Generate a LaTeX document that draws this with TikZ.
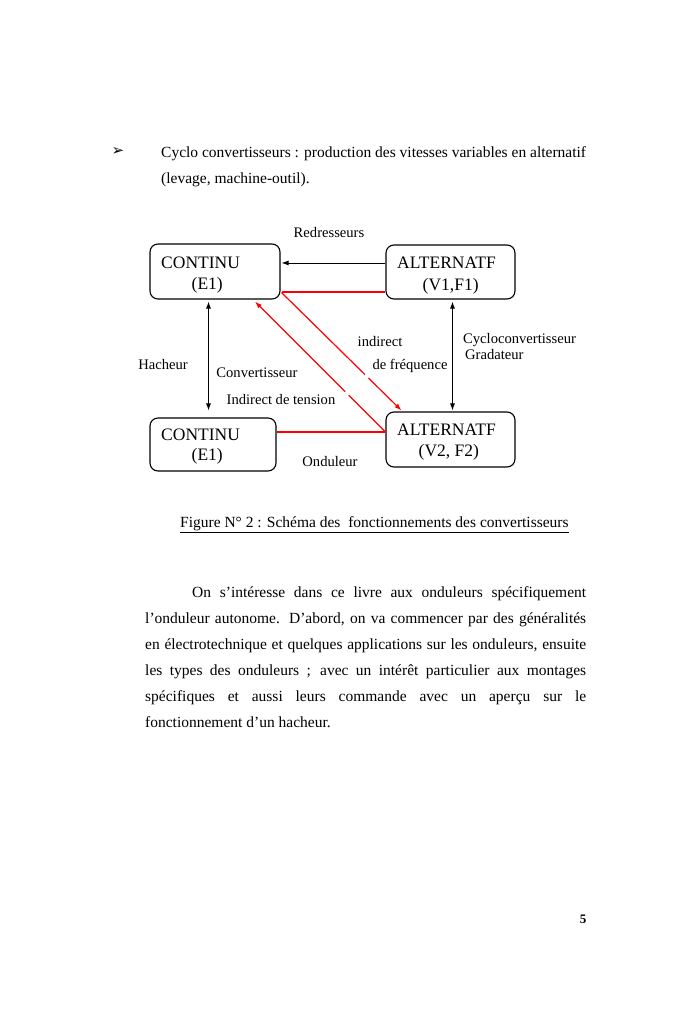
\documentclass[tikz,border=0pt]{standalone}
\usepackage{fontspec}
\setmainfont{Liberation Serif}
\newfontfamily\dejavu{DejaVu Sans}
\usetikzlibrary{arrows.meta,calc}
\definecolor{lred}{RGB}{255,0,0}
\tikzset{
  box/.style={draw=black, line width=1.1pt, rounded corners=8pt, inner sep=0pt},
  boxtxt/.style={font=\fontsize{17.5}{21}\selectfont, inner sep=0pt, anchor=base west},
  lbl/.style={font=\fontsize{14.6}{16}\selectfont, inner sep=0pt},
  body/.style={font=\fontsize{15.5}{26}\selectfont, inner sep=0pt, anchor=base west},
  conn/.style={line width=0.9pt, black},
  redc/.style={line width=1.2pt, draw=lred},
  redh/.style={line width=1.15pt, draw=lred},
  tip/.style={-{Latex[length=7pt,width=5pt]}},
  tips/.style={{Latex[length=7pt,width=5pt]}-{Latex[length=7pt,width=5pt]}},
}
\begin{document}
\begin{tikzpicture}[x=1pt,y=-1pt]
\useasboundingbox[fill=white] (0,0) rectangle (700,1028);

% top text
\node[inner sep=0pt, font=\dejavu\fontsize{15}{16}\selectfont] (bul) at (118,151) {➢};
\node[body] (t1) at (161,157) {Cyclo convertisseurs : production des vitesses variables en alternatif};
\node[body] (t2) at (161,183) {(levage, machine-outil).};

% boxes
\node[box, minimum width=130pt, minimum height=55pt] (c1) at (215,271.5) {};
\node[box, minimum width=129pt, minimum height=54pt] (a1) at (450.5,272) {};
\node[box, minimum width=126pt, minimum height=53pt] (c2) at (213,444.5) {};
\node[box, minimum width=129pt, minimum height=55pt] (a2) at (450.5,439.5) {};
\node[boxtxt] (c1a) at (161,268.5) {CONTINU};
\node[boxtxt] (c1b) at (191.5,289) {(E1)};
\node[boxtxt] (a1a) at (397,268.5) {ALTERNATF};
\node[boxtxt] (a1b) at (422.5,290) {(V1,F1)};
\node[boxtxt] (c2a) at (161,440) {CONTINU};
\node[boxtxt] (c2b) at (191.5,460.5) {(E1)};
\node[boxtxt] (a2a) at (397,435.5) {ALTERNATF};
\node[boxtxt] (a2b) at (418.5,456.5) {(V2, F2)};

% connectors
\draw[conn, tip] ($(a1.north west)+(0,18.5)$) -- ($(c1.north east)+(1,19.5)$);
\draw[redh] ($(c1.south east)+(1,-7.5)$) -- ($(a1.south west)+(0,-7.5)$);
\draw[conn, tips] ($(c1.south)+(-6.5,2)$) -- ($(c2.north)+(-4.5,-7)$);
\draw[conn, tips] ($(a1.south)+(2,2)$) -- ($(a2.north)+(2,-1)$);
\draw[redc, tip, dash pattern=on 117pt off 5pt on 300pt] ($(c1.south east)+(1,-7)$) -- ($(a2.north west)+(16,-1)$);
\draw[redc, tip, dash pattern=on 52pt off 5pt on 300pt] ($(a2.north west)+(0,20.5)$) -- ($(c1.south)+(40,2)$);
\draw[redh] ($(c2.north east)+(0,14.5)$) -- ($(a2.north west)+(0,20.5)$);

% labels
\node[lbl] (lr) at (329,233) {Redresseurs};
\node[lbl] (lh) at (163,365) {Hacheur};
\node[lbl] (lc) at (257,373) {Convertisseur};
\node[lbl] (lit) at (281,400) {Indirect de tension};
\node[lbl] (li) at (380,342) {indirect};
\node[lbl] (lf) at (410,366) {de fréquence};
\node[lbl, anchor=west] (lcy) at (463,340) {Cycloconvertisseur};
\node[lbl, anchor=west] (lg) at (465,355) {Gradateur};
\node[lbl] (lo) at (330,461) {Onduleur};

% caption
\node[body] (cap) at (180,527) {\underline{Figure N° 2 : Schéma des\ \ fonctionnements des convertisseurs}};

% paragraph
\node[body] (p1) at (192,597) {\makebox[394pt][s]{On s’intéresse dans ce livre aux onduleurs spécifiquement}};
\node[body] (p2) at (145,623) {\makebox[441pt][s]{l’onduleur autonome. D’abord, on va commencer par des généralités}};
\node[body] (p3) at (145,649) {\makebox[441pt][s]{en électrotechnique et quelques applications sur les onduleurs, ensuite}};
\node[body] (p4) at (145,675) {\makebox[441pt][s]{les types des onduleurs ; avec un intérêt particulier aux montages}};
\node[body] (p5) at (145,701) {\makebox[441pt][s]{spécifiques et aussi leurs commande avec un aperçu sur le}};
\node[body] (p6) at (145,727) {fonctionnement d’un hacheur.};

% page number
\node[inner sep=0pt, font=\bfseries\fontsize{13}{14}\selectfont] (pn) at (583,919) {5};
\end{tikzpicture}
\end{document}
